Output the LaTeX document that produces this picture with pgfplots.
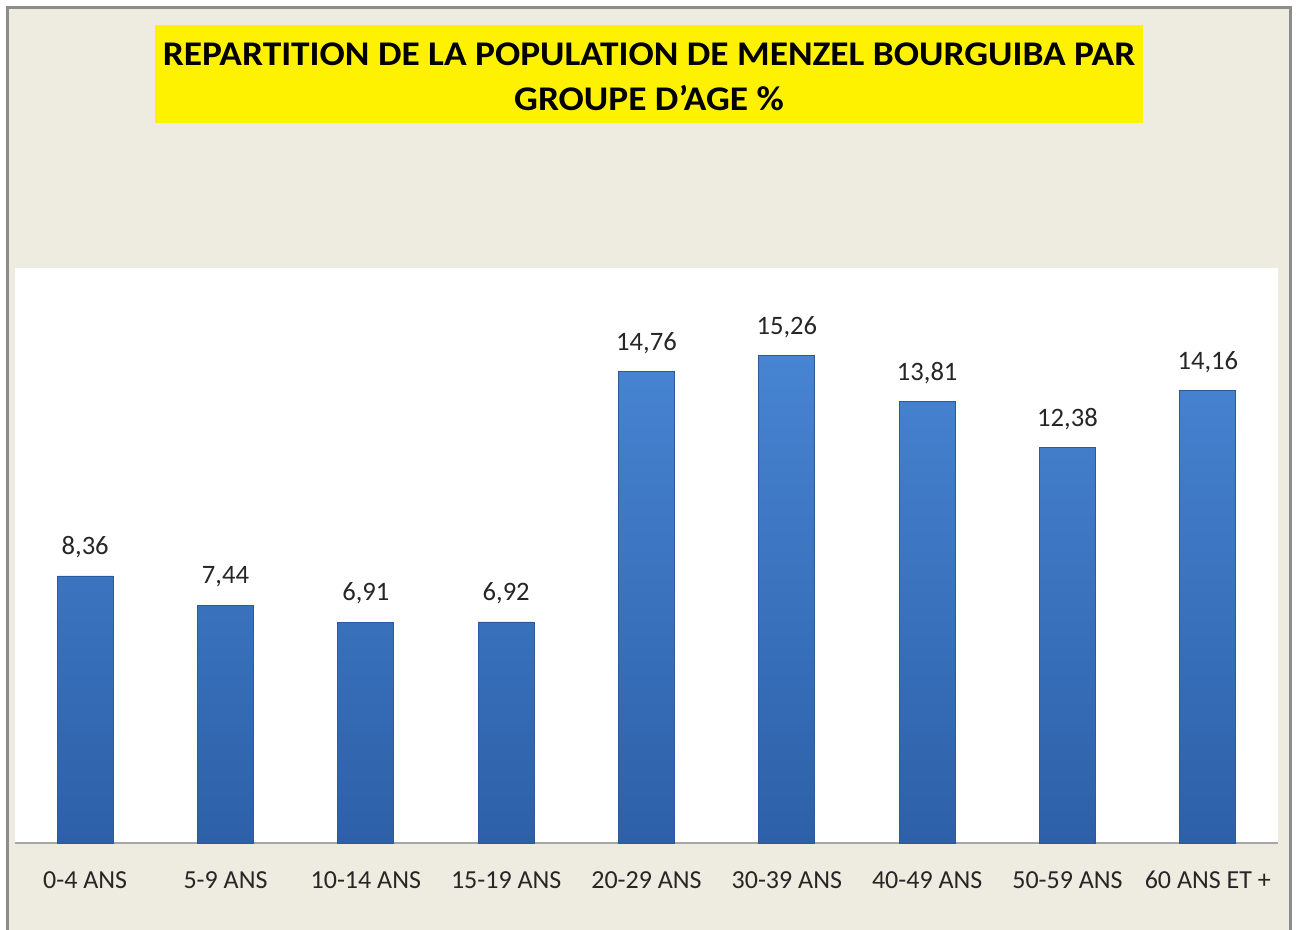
\documentclass[border=0pt]{standalone}
\usepackage{fontspec}
\setmainfont{Carlito}
\usepackage{pgfplots}
\pgfplotsset{compat=1.18}
\definecolor{beige}{HTML}{EEECE1}
\definecolor{framegray}{HTML}{8C8C8C}
\definecolor{axgray}{HTML}{A6A6A6}
\definecolor{bartop}{HTML}{4784D2}
\definecolor{barbot}{HTML}{2D60A8}
\definecolor{baredge}{HTML}{2A5A9C}
\definecolor{txt}{HTML}{262626}
\begin{document}
\begin{tikzpicture}
\useasboundingbox (0,0) rectangle (649pt,465pt);
\fill[white] (0,0) rectangle (649pt,465pt);
\fill[beige] (3.5pt,0) rectangle (645pt,461pt);
\draw[framegray, line width=1.5pt] (3.5pt,0) -- (3.5pt,461pt) -- (645pt,461pt) -- (645pt,0);
\fill[yellow] (77.5pt,403.5pt) rectangle (571.5pt,452.5pt);
\node[align=center, font=\fontsize{17.3}{22.5}\selectfont\bfseries, inner sep=0pt, xscale=1.08, transform shape] at (324.5pt,426.5pt)
  {REPARTITION DE LA POPULATION DE MENZEL BOURGUIBA PAR\\GROUPE D’AGE \%};
\begin{axis}[
  at={(7.5pt,43.5pt)}, anchor=south west,
  scale only axis, width=631.5pt, height=287.5pt,
  xmin=-0.5, xmax=8.5, ymin=0, ymax=18,
  axis background/.style={fill=white},
  axis x line*=bottom, axis y line=none,
  axis line style={axgray, line width=0.8pt},
  xtick=data,
  xticklabels={0-4 ANS,5-9 ANS,10-14 ANS,15-19 ANS,20-29 ANS,30-39 ANS,40-49 ANS,50-59 ANS,60 ANS ET +},
  xtick style={draw=none},
  xticklabel style={font=\fontsize{13}{15}\selectfont, text=txt, inner sep=0pt, anchor=north, yshift=-14pt},
  ytick=\empty,
  nodes near coords,
  /pgf/number format/.cd, use comma, fixed, fixed zerofill, precision=2, assume math mode=true,
  /pgfplots/.cd,
  every node near coord/.append style={font=\fontsize{13.3}{15}\selectfont, text=txt, inner sep=0pt, anchor=south, yshift=10.5pt, text depth=0pt},
  clip=false,
]
\addplot[ybar, bar width=28pt, draw=baredge, top color=bartop, bottom color=barbot] coordinates {
(0,8.36) (1,7.44) (2,6.91) (3,6.92) (4,14.76) (5,15.26) (6,13.81) (7,12.38) (8,14.16)};
\end{axis}
\end{tikzpicture}
\end{document}
